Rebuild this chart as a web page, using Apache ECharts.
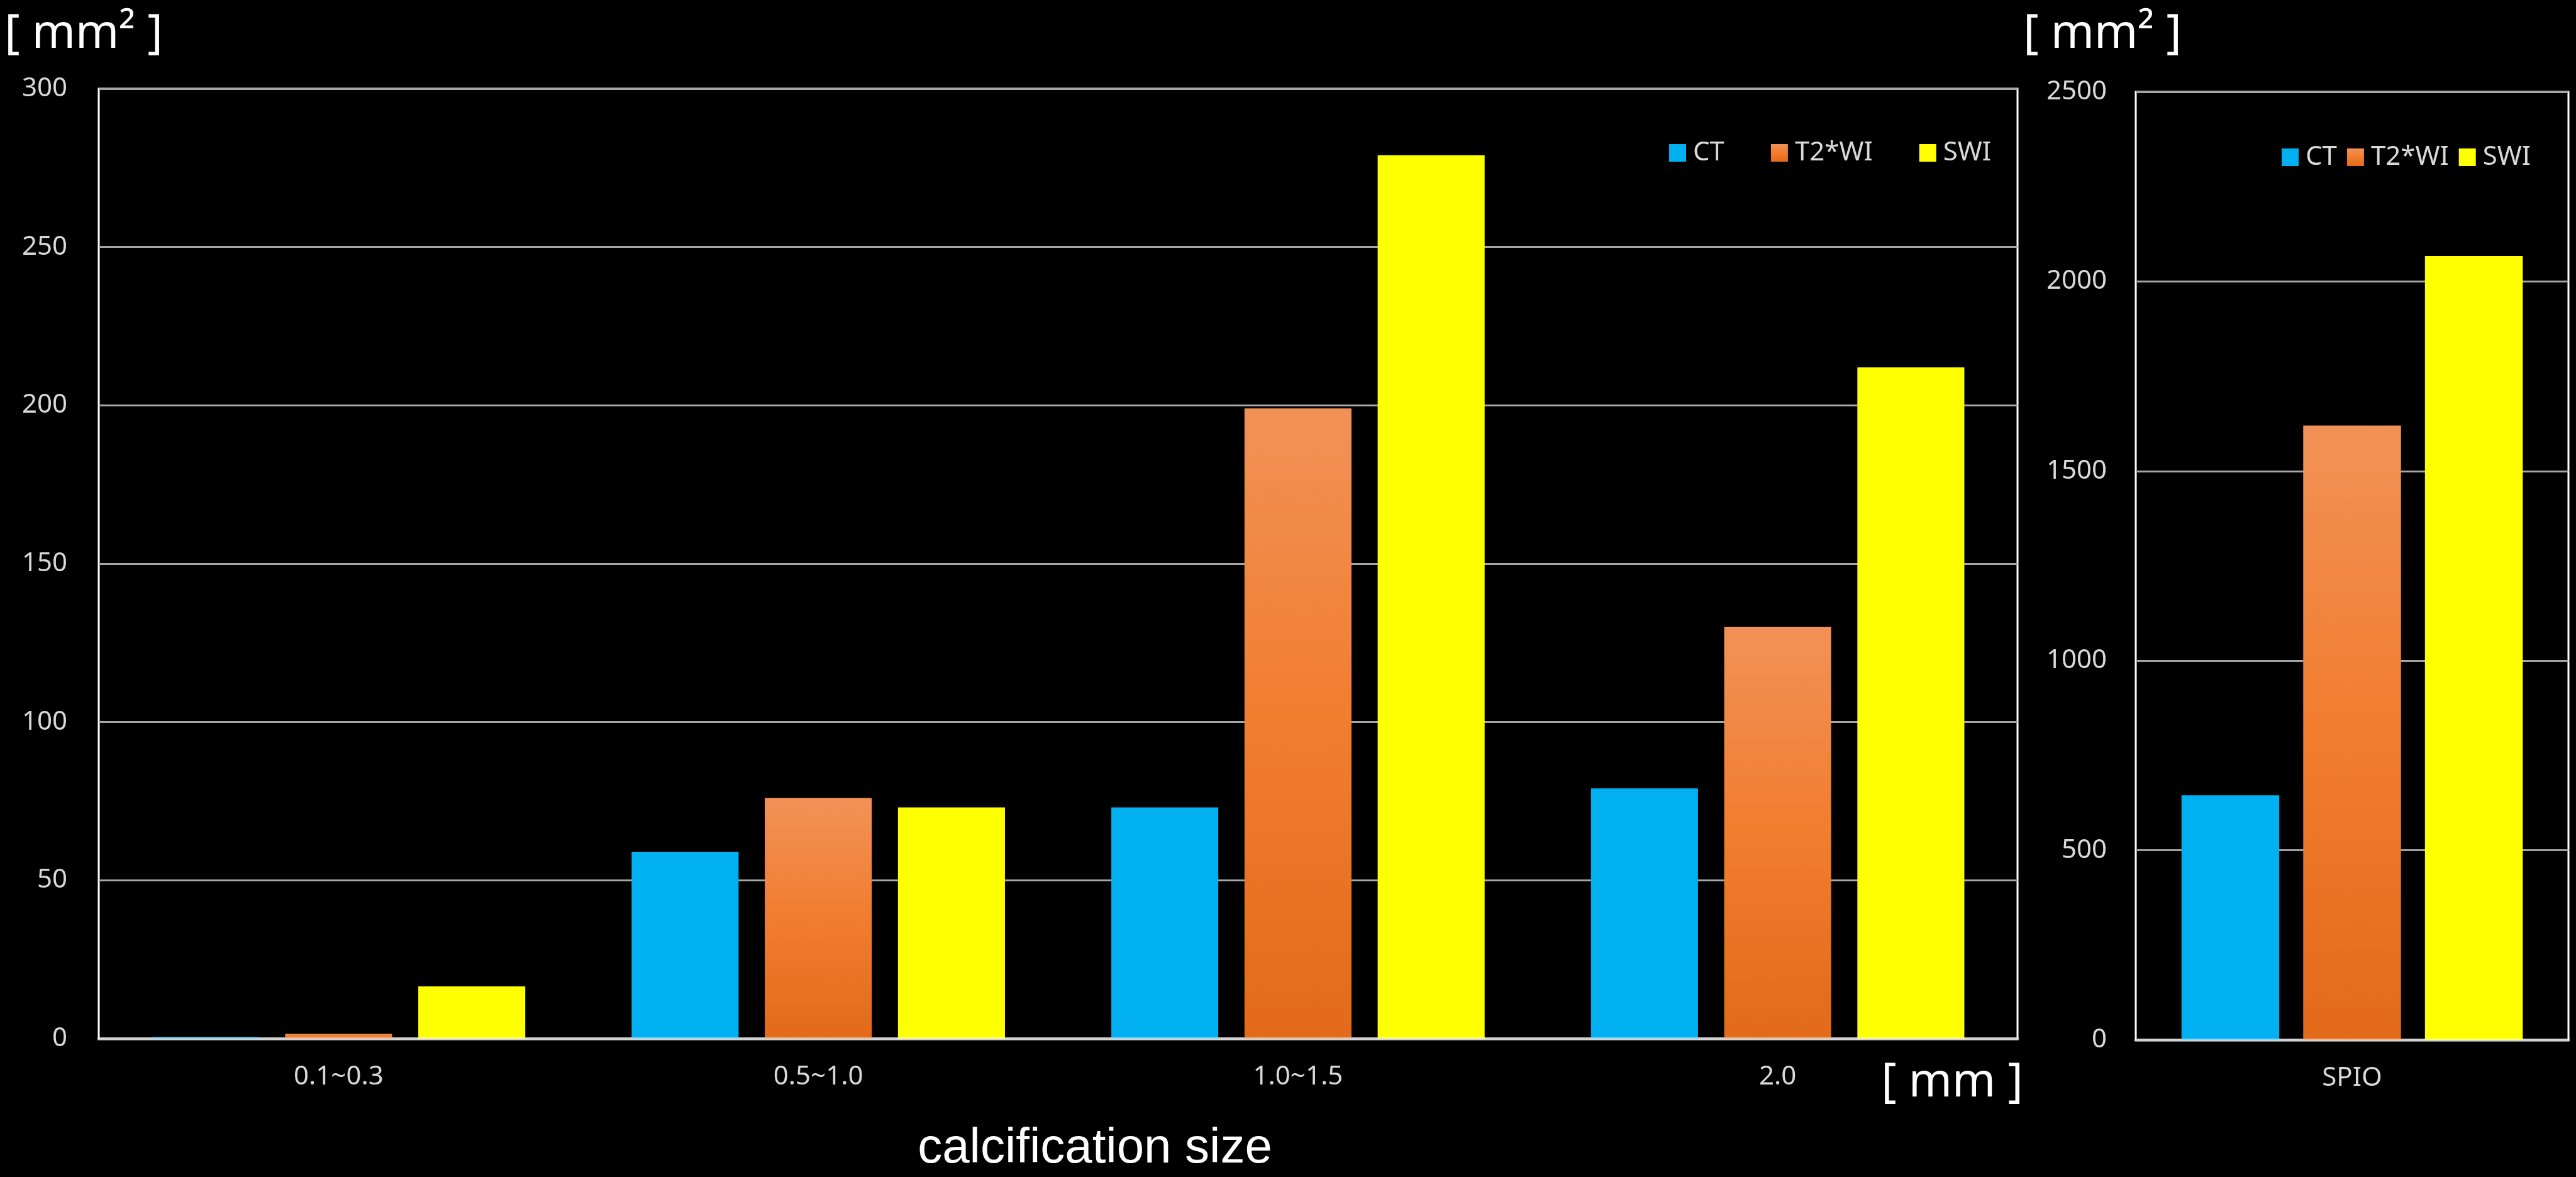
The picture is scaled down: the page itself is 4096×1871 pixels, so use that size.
<!DOCTYPE html>
<html>
<head>
<meta charset="utf-8">
<script src="https://cdn.jsdelivr.net/npm/echarts@6/dist/echarts.min.js"></script>
<style>
  html, body { margin: 0; padding: 0; background: #000; }
  #chart { width: 4096px; height: 1871px; }
</style>
</head>
<body>
<div id="chart"></div>
<script>
// Calcified area by calcification size (left panel) and SPIO phantom (right panel)
const seriesNames = ['CT', 'T2*WI', 'SWI'];
const sizeCategories = ['0.1~0.3', '0.5~1.0', '1.0~1.5', '2.0'];
const ctValues = [0.5, 59, 73, 79];
const t2Values = [1.5, 76, 199, 130];
const swiValues = [16.5, 73, 279, 212];

const spioCategories = ['SPIO'];
const spioCtValues = [645];
const spioT2Values = [1620];
const spioSwiValues = [2067];

const leftTicks = { min: 0, max: 300, interval: 50 };
const rightTicks = { min: 0, max: 2500, interval: 500 };

const FONT = "'Noto Sans', 'Open Sans', sans-serif";
const ctColor = '#00B0F0';
const swiColor = '#FFFF00';
const t2Color = new echarts.graphic.LinearGradient(0, 0, 0, 1, [
  { offset: 0, color: '#F29157' },
  { offset: 0.5, color: '#F17D2E' },
  { offset: 1, color: '#E26A1A' }
]);
const colors = [ctColor, t2Color, swiColor];

const chart = echarts.init(document.getElementById('chart'), null, { renderer: 'canvas' });

function bars(values, idx, grid) {
  return {
    name: seriesNames[idx],
    type: 'bar',
    xAxisIndex: grid,
    yAxisIndex: grid,
    data: values,
    barWidth: grid === 0 ? '22.3%' : '22.6%',
    barGap: '24.5%',
    itemStyle: { color: colors[idx] },
    emphasis: { disabled: true }
  };
}

function valueAxis(grid, ticks, margin) {
  return {
    type: 'value',
    gridIndex: grid,
    min: ticks.min,
    max: ticks.max,
    interval: ticks.interval,
    axisLine: { show: false },
    axisTick: { show: false },
    axisLabel: {
      color: '#d9d9d9', fontSize: 42, fontFamily: FONT, margin: margin,
      formatter: (v) => String(v)
    },
    splitLine: { lineStyle: { color: '#a6a6a6', width: 3 } }
  };
}

function categoryAxis(grid, cats) {
  return {
    type: 'category',
    gridIndex: grid,
    data: cats,
    z: 3,
    axisLine: { lineStyle: { color: 'rgba(255,255,255,0.5)', width: 5 } },
    axisTick: { show: false },
    axisLabel: { color: '#d9d9d9', fontSize: 42, fontFamily: FONT, margin: 40 }
  };
}

function legend(left, top, gap) {
  return {
    data: seriesNames.map((n) => ({ name: n, icon: 'rect' })),
    left: left,
    top: top,
    orient: 'horizontal',
    itemWidth: 27,
    itemHeight: 28,
    itemGap: gap,
    selectedMode: false,
    textStyle: { color: '#d9d9d9', fontSize: 42, fontFamily: FONT, padding: [0, 0, 0, 6] }
  };
}

function unitText(text, x, y, size, family) {
  return {
    type: 'text',
    x: x,
    y: y,
    style: {
      text: text,
      fill: '#ffffff',
      font: size + 'px ' + family,
      textAlign: 'center',
      textVerticalAlign: 'middle'
    }
  };
}

chart.setOption({
  backgroundColor: '#000000',
  animation: false,
  grid: [
    { left: 157, top: 141, right: 888, bottom: 220, show: true, borderColor: '#ffffff', borderWidth: 3, backgroundColor: 'transparent' },
    { left: 3396, top: 146, right: 12, bottom: 218, show: true, borderColor: '#ffffff', borderWidth: 3, backgroundColor: 'transparent' }
  ],
  legend: [legend(2649, 217, 74), legend(3623, 224, 16)],
  xAxis: [categoryAxis(0, sizeCategories), categoryAxis(1, spioCategories)],
  yAxis: [valueAxis(0, leftTicks, 50), valueAxis(1, rightTicks, 46)],
  series: [
    bars(ctValues, 0, 0),
    bars(t2Values, 1, 0),
    bars(swiValues, 2, 0),
    bars(spioCtValues, 0, 1),
    bars(spioT2Values, 1, 1),
    bars(spioSwiValues, 2, 1)
  ],
  graphic: [
    unitText('[ mm\u00B2 ]', 133, 55, 74, FONT),
    unitText('[ mm\u00B2 ]', 3343, 55, 74, FONT),
    unitText('[ mm ]', 3104, 1722, 74, FONT),
    unitText('calcification size', 1741, 1826, 78, "'Liberation Sans', Arial, sans-serif")
  ]
});
</script>
</body>
</html>
